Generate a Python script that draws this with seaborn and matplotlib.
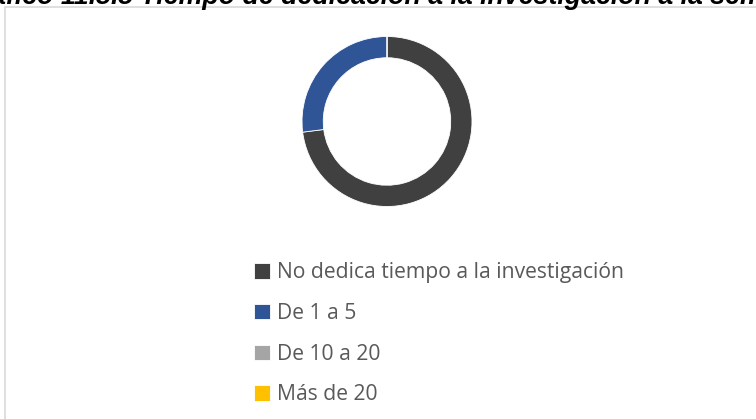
import matplotlib
matplotlib.use("Agg")
import matplotlib.pyplot as plt
import seaborn as sns
from matplotlib.patches import Rectangle

sns.set_theme(style="white")
plt.rcParams['font.family'] = ['Open Sans', 'DejaVu Sans']

categories = ["No dedica tiempo a la investigación", "De 1 a 5", "De 10 a 20", "Más de 20"]
values = [73, 27, 0, 0]
colors = ["#404040", "#2F5597", "#A5A5A5", "#FFC000"]
title = "Gráfico 11.5.5 Tiempo de dedicación a la investigación a la semana"

W, H = 756, 419
fig = plt.figure(figsize=(W / 100, H / 100), dpi=100)
fig.patch.set_facecolor("white")

# chart frame
fig.patches.append(Rectangle((5 / W, -0.1), 1.2, 1 - 7 / H + 0.1, transform=fig.transFigure,
                             fill=False, edgecolor="#D9D9D9", linewidth=1.2))

# title (clipped at top as in reference)
fig.text(-40 / W, 1 - 3.5 / H, title, ha="left", va="baseline", fontsize=19.3,
         fontweight="bold", fontstyle="italic", family=["Liberation Sans"], color="black")

cx, cy, r = 387, 121.5, 85
ax = fig.add_axes([(cx - r) / W, 1 - (cy + r) / H, 2 * r / W, 2 * r / H])
wedges, _ = ax.pie(values, colors=colors, startangle=90, counterclock=False,
                   wedgeprops=dict(width=0.25, edgecolor="white", linewidth=0.6))
ax.set_xlim(-1, 1)
ax.set_ylim(-1, 1)
ax.set_aspect("equal")
ax.axis("off")

leg = fig.legend(wedges, categories, loc="upper left", bbox_to_anchor=(246 / W, 1 - 254 / H),
                 frameon=False, fontsize=15.2, labelcolor="#595959", handlelength=0.75,
                 handleheight=0.75, handletextpad=0.3, labelspacing=0.93, borderaxespad=0)

fig.savefig("out.png", dpi=100)
